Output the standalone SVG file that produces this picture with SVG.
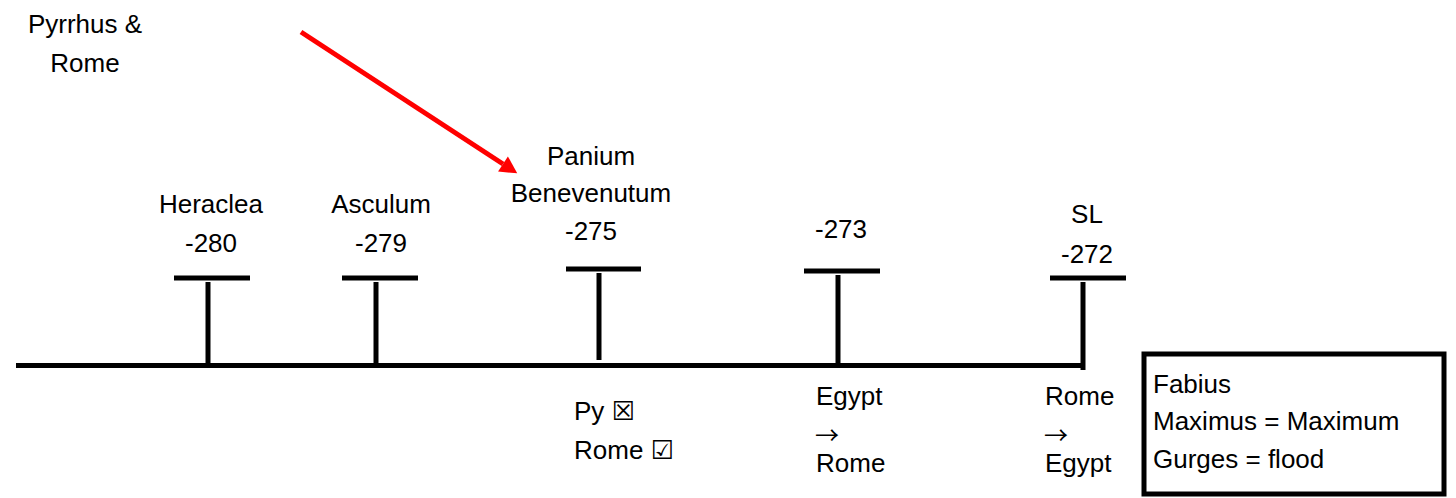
<svg xmlns="http://www.w3.org/2000/svg" width="1456" height="498" viewBox="0 0 1456 498">
<style>
text{font-family:"Liberation Sans",Arial,"DejaVu Sans",sans-serif;font-size:26px;fill:#000}
.c{text-anchor:middle}
.ln{stroke:#000;stroke-width:5;fill:none}
.sym{font-family:"DejaVu Sans","Liberation Sans",sans-serif}
.arr{font-family:"Noto Sans CJK SC","DejaVu Sans",sans-serif;font-size:24px}
</style>
<defs>
<marker id="ah" markerUnits="userSpaceOnUse" markerWidth="18" markerHeight="18" refX="0" refY="9" orient="auto" overflow="visible">
<path d="M0,0 L17,9 L0,18 z" fill="#ff0000"/>
</marker>
</defs>
<rect width="1456" height="498" fill="#fff"/>
<g id="title">
<text class="c" x="85" y="33">Pyrrhus &amp;</text>
<text class="c" x="85" y="72">Rome</text>
</g>
<g id="connectors">
<line x1="301" y1="32" x2="503" y2="164" stroke="#ff0000" stroke-width="5" marker-end="url(#ah)"/>
<line class="ln" x1="16" y1="365.5" x2="1085" y2="365.5"/>
</g>
<g id="heraclea">
<line class="ln" x1="174" y1="278" x2="250" y2="278"/>
<line class="ln" x1="208" y1="282" x2="208" y2="368"/>
<text class="c" x="211" y="213">Heraclea</text>
<text class="c" x="211" y="252">-280</text>
</g>
<g id="asculum">
<line class="ln" x1="342" y1="278" x2="418" y2="278"/>
<line class="ln" x1="376" y1="282" x2="376" y2="368"/>
<text class="c" x="381" y="213">Asculum</text>
<text class="c" x="381" y="252">-279</text>
</g>
<g id="panium">
<line class="ln" x1="566" y1="269" x2="641" y2="269"/>
<line class="ln" x1="599" y1="273" x2="599" y2="360"/>
<text class="c" x="591" y="165">Panium</text>
<text class="c" x="591" y="202">Benevenutum</text>
<text class="c" x="591" y="240">-275</text>
<text x="574" y="420">Py <tspan class="sym">☒</tspan></text>
<text x="574" y="459">Rome <tspan class="sym">☑</tspan></text>
</g>
<g id="y273">
<line class="ln" x1="804" y1="271" x2="880" y2="271"/>
<line class="ln" x1="838" y1="275" x2="838" y2="363"/>
<text class="c" x="841" y="238">-273</text>
<text x="816" y="405">Egypt</text>
<text class="arr" x="815" y="444">→</text>
<text x="816" y="472">Rome</text>
</g>
<g id="sl">
<line class="ln" x1="1050" y1="278" x2="1126" y2="278"/>
<line class="ln" x1="1083" y1="282" x2="1083" y2="370"/>
<text class="c" x="1087" y="223">SL</text>
<text class="c" x="1087" y="263">-272</text>
<text x="1045" y="405">Rome</text>
<text class="arr" x="1044" y="444">→</text>
<text x="1045" y="472">Egypt</text>
</g>
<g id="fabius">
<rect class="ln" x="1144" y="354" width="300" height="140"/>
<text x="1153" y="393">Fabius</text>
<text x="1153" y="430">Maximus = Maximum</text>
<text x="1153" y="468">Gurges = flood</text>
</g>
</svg>
